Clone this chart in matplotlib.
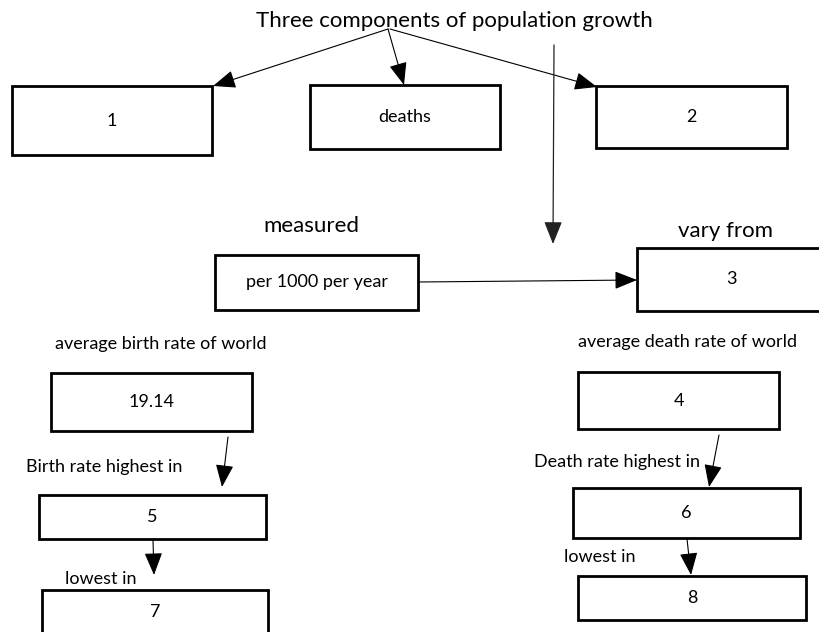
import matplotlib.pyplot as plt
from matplotlib.patches import Rectangle

plt.rcParams['font.family'] = ['Lato', 'DejaVu Sans']

# --- diagram text ---
title = "Three components of population growth"
top_labels = ["1", "deaths", "2"]
mid_labels = ["per 1000 per year", "3"]
mid_captions = ["measured", "vary from"]
rate_captions = ["average birth rate of world", "average death rate of world"]
rate_values = ["19.14", "4"]
high_captions = ["Birth rate highest in", "Death rate highest in"]
high_labels = ["5", "6"]
low_captions = ["lowest in", "lowest in"]
low_labels = ["7", "8"]

# box layout in pixels: (x0, y0, x1, y1), y measured from top
top_boxes = [(12, 86, 212, 155), (310, 85, 500, 149), (596, 86, 787, 148)]
mid_boxes = [(215, 255, 418, 310), (637, 248, 825, 311)]
rate_boxes = [(51, 373, 252, 431), (578, 372, 779, 429)]
high_boxes = [(39, 495, 266, 539), (573, 488, 800, 538)]
low_boxes = [(42, 590, 268, 645), (578, 576, 806, 620)]


def box(ax, b, text, size=13, pos=None):
    x0, y0, x1, y1 = b
    ax.add_patch(Rectangle((x0, y0), x1 - x0, y1 - y0, fill=True,
                           facecolor="white", edgecolor="black", lw=2.0))
    # some boxes run off the page, so the label sits off-centre
    tx, ty = pos if pos else ((x0 + x1) / 2, (y0 + y1) / 2)
    ax.text(tx, ty, text, ha="center", va="center", fontsize=size)


def arrow(ax, start, end, lw=0.8, color="black"):
    ax.annotate("", xy=end, xytext=start,
                arrowprops=dict(arrowstyle="-|>,head_length=1.0,head_width=0.4",
                                mutation_scale=14, color=color, lw=lw,
                                shrinkA=0, shrinkB=0))


fig = plt.figure(figsize=(8.19, 6.32), dpi=100)
ax = fig.add_axes([0, 0, 1, 1])
ax.set_xlim(0, 819)
ax.set_ylim(632, 0)
ax.axis("off")

ax.text(454, 21, title, ha="center", va="center", fontsize=16)

for b, t in zip(top_boxes, top_labels):
    box(ax, b, t)

# arrows from the title
arrow(ax, (388, 29), (213, 86))
arrow(ax, (388, 29), (404, 85))
arrow(ax, (390, 29), (597, 87))
arrow(ax, (554, 45), (553, 244), lw=0.9, color="#222222")

ax.text(311, 226, mid_captions[0], ha="center", va="center", fontsize=16)
ax.text(725, 231, mid_captions[1], ha="center", va="center", fontsize=16)
box(ax, mid_boxes[0], mid_labels[0])
box(ax, mid_boxes[1], mid_labels[1], pos=(731, 279))
arrow(ax, (418, 282), (637, 280))

ax.text(161, 344, rate_captions[0], ha="center", va="center", fontsize=13)
ax.text(688, 342, rate_captions[1], ha="center", va="center", fontsize=13)
box(ax, rate_boxes[0], rate_values[0])
box(ax, rate_boxes[1], rate_values[1])

arrow(ax, (228, 437), (222, 487))
arrow(ax, (719, 435), (709, 487))
ax.text(104, 467, high_captions[0], ha="center", va="center", fontsize=13)
ax.text(617, 462, high_captions[1], ha="center", va="center", fontsize=13)
box(ax, high_boxes[0], high_labels[0])
box(ax, high_boxes[1], high_labels[1])

arrow(ax, (153, 540), (154, 575))
arrow(ax, (687, 539), (691, 575))
ax.text(101, 579, low_captions[0], ha="center", va="center", fontsize=13)
ax.text(600, 557, low_captions[1], ha="center", va="center", fontsize=13)
box(ax, low_boxes[0], low_labels[0], pos=(155, 612))
box(ax, low_boxes[1], low_labels[1])

fig.savefig("out.png", dpi=100)
